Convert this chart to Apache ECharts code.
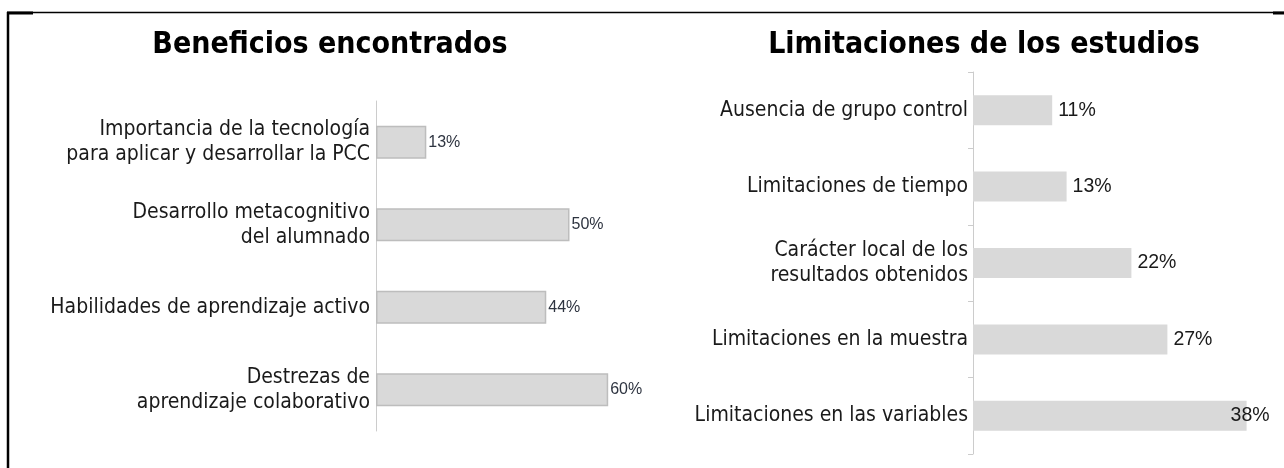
<!DOCTYPE html>
<html>
<head>
<meta charset="utf-8">
<script src="https://cdn.jsdelivr.net/npm/echarts@6/dist/echarts.min.js"></script>
<style>
html,body{margin:0;padding:0;background:#fff;}
#c{width:1284px;height:468px;}
</style>
</head>
<body>
<div id="c"></div>
<script>
const titleLeft = 'Beneficios encontrados';
const titleRight = 'Limitaciones de los estudios';

const benefitCategories = [
  'Importancia de la tecnología\npara aplicar y desarrollar la PCC',
  'Desarrollo metacognitivo\ndel alumnado',
  'Habilidades de aprendizaje activo',
  'Destrezas de\naprendizaje colaborativo'
];
const benefitValues = [13, 50, 44, 60];

const limitCategories = [
  'Ausencia de grupo control',
  'Limitaciones de tiempo',
  'Carácter local de los\nresultados obtenidos',
  'Limitaciones en la muestra',
  'Limitaciones en las variables'
];
const limitValues = [11, 13, 22, 27, 38];

const chart = echarts.init(document.getElementById('c'), null, {renderer: 'canvas'});

const catFont = 'DejaVu Sans Condensed, DejaVu Sans, sans-serif';
const numFont = 'Liberation Sans Narrow, Liberation Sans, sans-serif';

chart.setOption({
  backgroundColor: '#ffffff',
  animation: false,
  graphic: [
    {type: 'line', shape: {x1: 7, y1: 12.5, x2: 1284, y2: 12.5}, style: {stroke: '#000', lineWidth: 1.3}},
    {type: 'line', shape: {x1: 7, y1: 13, x2: 33, y2: 13}, style: {stroke: '#000', lineWidth: 3}},
    {type: 'line', shape: {x1: 1273, y1: 13, x2: 1284, y2: 13}, style: {stroke: '#000', lineWidth: 3}},
    {type: 'line', shape: {x1: 8, y1: 12, x2: 8, y2: 468}, style: {stroke: '#000', lineWidth: 2.5}},
    {type: 'text', x: 330, y: 45, style: {text: titleLeft, textAlign: 'center', textVerticalAlign: 'middle',
      font: 'bold 30px "DejaVu Sans Condensed", "DejaVu Sans", sans-serif', fill: '#000'}},
    {type: 'text', x: 984, y: 45, style: {text: titleRight, textAlign: 'center', textVerticalAlign: 'middle',
      font: 'bold 30px "DejaVu Sans Condensed", "DejaVu Sans", sans-serif', fill: '#000'}}
  ],
  grid: [
    {left: 376, top: 101, width: 387, height: 330},
    {left: 973, top: 72, width: 288, height: 382}
  ],
  xAxis: [
    {gridIndex: 0, type: 'value', min: 0, max: 100, show: false},
    {gridIndex: 1, type: 'value', min: 0, max: 40, show: false}
  ],
  yAxis: [
    {gridIndex: 0, type: 'category', inverse: true, data: benefitCategories,
     axisLine: {show: true, lineStyle: {color: '#cccccc', width: 1}},
     axisTick: {show: false},
     axisLabel: {fontFamily: catFont, fontSize: 21, color: '#1a1a1a', margin: 6, lineHeight: 25, align: 'right'}},
    {gridIndex: 1, type: 'category', inverse: true, data: limitCategories,
     axisLine: {show: true, lineStyle: {color: '#cccccc', width: 1}},
     axisTick: {show: true, length: 5, lineStyle: {color: '#cccccc'}},
     axisLabel: {fontFamily: catFont, fontSize: 21, color: '#1a1a1a', margin: 5, lineHeight: 25, align: 'right'}}
  ],
  series: [
    {type: 'bar', xAxisIndex: 0, yAxisIndex: 0, data: benefitValues, barWidth: 33,
     itemStyle: {color: '#d9d9d9', borderColor: '#bdbdbd', borderWidth: 1.5},
     label: {show: true, position: 'right', distance: 2, formatter: '{c}%',
       fontFamily: numFont, fontSize: 16, color: '#2e3440'}},
    {type: 'bar', xAxisIndex: 1, yAxisIndex: 1,
     data: limitValues.map((v, i) => i === limitValues.length - 1 ? {value: v, label: {offset: [-22, 0]}} : v),
     barWidth: 30,
     itemStyle: {color: '#d9d9d9'},
     label: {show: true, position: 'right', distance: 6, formatter: '{c}%',
       fontFamily: numFont, fontSize: 19.5, color: '#1a1a1a'}}
  ]
});
</script>
</body>
</html>
